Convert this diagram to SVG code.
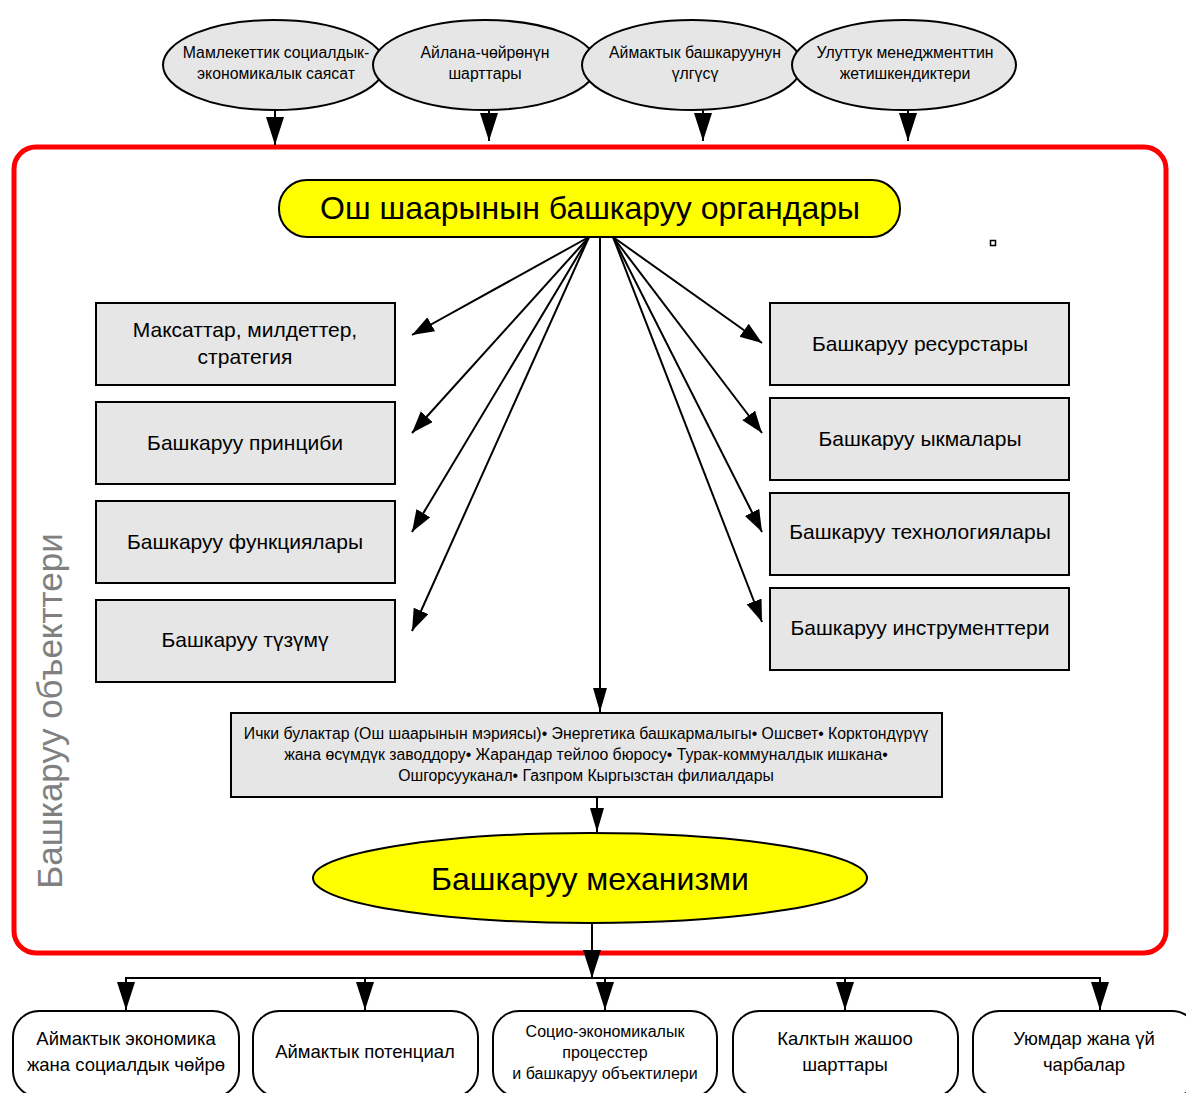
<svg xmlns="http://www.w3.org/2000/svg" width="1186" height="1093" viewBox="0 0 1186 1093">
<style>
text{font-family:"Liberation Sans",Arial,sans-serif;fill:#000;text-anchor:middle}
.ell{fill:#e6e6e6;stroke:#000;stroke-width:2}
.box{fill:#e6e6e6;stroke:#000;stroke-width:2}
.rbox{fill:#fff;stroke:#000;stroke-width:2}
.yel{fill:#ffff00;stroke:#000;stroke-width:2}
.ln{stroke:#000;stroke-width:2;fill:none}
.t15{font-size:15.8px}
.t20{font-size:21px}
.t19{font-size:18.5px}
.t14{font-size:15.8px}
.t16{font-size:16px}
</style>
<defs>
<marker id="af" markerUnits="userSpaceOnUse" markerWidth="24" markerHeight="18" refX="22" refY="8" orient="auto">
<path d="M0,0 L22,8 L0,16 z" fill="#000"/>
</marker>
<marker id="ab" markerUnits="userSpaceOnUse" markerWidth="30" markerHeight="20" refX="28" refY="9" orient="auto">
<path d="M0,0 L28,9 L0,18 z" fill="#000"/>
</marker>
<marker id="am" markerUnits="userSpaceOnUse" markerWidth="26" markerHeight="16" refX="24" refY="7" orient="auto">
<path d="M0,0 L24,7 L0,14 z" fill="#000"/>
</marker>
</defs>

<rect x="14" y="147" width="1152" height="806" rx="22" fill="none" stroke="#ff0000" stroke-width="5"/>

<g id="connectors">
<line class="ln" x1="275" y1="109" x2="275" y2="145" marker-end="url(#ab)"/>
<line class="ln" x1="489" y1="110" x2="489" y2="141" marker-end="url(#ab)"/>
<line class="ln" x1="703" y1="110" x2="703" y2="141" marker-end="url(#ab)"/>
<line class="ln" x1="908" y1="110" x2="908" y2="141" marker-end="url(#ab)"/>

<line class="ln" x1="589" y1="237" x2="412" y2="335" marker-end="url(#af)"/>
<line class="ln" x1="589" y1="237" x2="412" y2="433" marker-end="url(#af)"/>
<line class="ln" x1="589" y1="237" x2="412" y2="532" marker-end="url(#af)"/>
<line class="ln" x1="589" y1="237" x2="412" y2="631" marker-end="url(#af)"/>
<line class="ln" x1="613" y1="237" x2="762" y2="343" marker-end="url(#af)"/>
<line class="ln" x1="613" y1="237" x2="762" y2="433" marker-end="url(#af)"/>
<line class="ln" x1="613" y1="237" x2="762" y2="532" marker-end="url(#af)"/>
<line class="ln" x1="613" y1="237" x2="762" y2="622" marker-end="url(#af)"/>

<line class="ln" x1="600" y1="237" x2="600" y2="712" marker-end="url(#am)"/>
<line class="ln" x1="597" y1="797" x2="597" y2="832" marker-end="url(#am)"/>

<line class="ln" x1="592" y1="923" x2="592" y2="978" marker-end="url(#ab)"/>
<polyline class="ln" points="126,1000 126,978 1100,978 1100,1000"/>
<line class="ln" x1="126" y1="978" x2="126" y2="1010" marker-end="url(#ab)"/>
<line class="ln" x1="365" y1="978" x2="365" y2="1010" marker-end="url(#ab)"/>
<line class="ln" x1="605" y1="978" x2="605" y2="1010" marker-end="url(#ab)"/>
<line class="ln" x1="845" y1="978" x2="845" y2="1010" marker-end="url(#ab)"/>
<line class="ln" x1="1100" y1="978" x2="1100" y2="1010" marker-end="url(#ab)"/>
</g>

<g id="top1"><ellipse class="ell" cx="274" cy="65" rx="111" ry="45"/>
<text class="t15" x="276" y="58">Мамлекеттик социалдык-</text><text class="t15" x="276" y="79">экономикалык саясат</text></g>
<g id="top2"><ellipse class="ell" cx="485" cy="65" rx="112" ry="45"/>
<text class="t15" x="485" y="58">Айлана-чөйрөнүн</text><text class="t15" x="485" y="79">шарттары</text></g>
<g id="top3"><ellipse class="ell" cx="692" cy="65" rx="110" ry="45"/>
<text class="t15" x="695" y="58">Аймактык башкаруунун</text><text class="t15" x="695" y="79">үлгүсү</text></g>
<g id="top4"><ellipse class="ell" cx="904" cy="65" rx="112" ry="45"/>
<text class="t15" x="905" y="58">Улуттук менеджменттин</text><text class="t15" x="905" y="79">жетишкендиктери</text></g>

<g id="organs"><rect class="yel" x="279" y="180" width="621" height="57" rx="28"/>
<text x="590" y="219" style="font-size:32px">Ош шаарынын башкаруу органдары</text></g>

<rect x="990.5" y="240.5" width="5" height="5" fill="#fff" stroke="#000" stroke-width="1.5"/>

<g id="l1"><rect class="box" x="96" y="303" width="299" height="82"/>
<text class="t20" x="245" y="337">Максаттар, милдеттер,</text><text class="t20" x="245" y="364">стратегия</text></g>
<g id="l2"><rect class="box" x="96" y="402" width="299" height="82"/>
<text class="t20" x="245" y="450">Башкаруу принциби</text></g>
<g id="l3"><rect class="box" x="96" y="501" width="299" height="82"/>
<text class="t20" x="245" y="549">Башкаруу функциялары</text></g>
<g id="l4"><rect class="box" x="96" y="600" width="299" height="82"/>
<text class="t20" x="245" y="647">Башкаруу түзүмү</text></g>

<g id="r1"><rect class="box" x="770" y="303" width="299" height="82"/>
<text class="t20" x="920" y="351">Башкаруу ресурстары</text></g>
<g id="r2"><rect class="box" x="770" y="398" width="299" height="82"/>
<text class="t20" x="920" y="446">Башкаруу ыкмалары</text></g>
<g id="r3"><rect class="box" x="770" y="493" width="299" height="82"/>
<text class="t20" x="920" y="539">Башкаруу технологиялары</text></g>
<g id="r4"><rect class="box" x="770" y="588" width="299" height="82"/>
<text class="t20" x="920" y="635">Башкаруу инструменттери</text></g>

<g id="sources"><rect class="box" x="231" y="713" width="711" height="84"/>
<text class="t14" x="586" y="739">Ички булактар (Ош шаарынын мэриясы)• Энергетика башкармалыгы• Ошсвет• Корктондүрүү</text>
<text class="t14" x="586" y="760">жана өсүмдүк заводдору• Жарандар тейлоо бюросу• Турак-коммуналдык ишкана•</text>
<text class="t14" x="586" y="781">Ошгорсууканал• Газпром Кыргызстан филиалдары</text></g>

<g id="mechanism"><ellipse class="yel" cx="590" cy="878" rx="277" ry="45"/>
<text x="590" y="890" style="font-size:32px">Башкаруу механизми</text></g>

<text x="0" y="0" transform="translate(62,711) rotate(-90)" style="font-size:35px;fill:#808080">Башкаруу объекттери</text>

<g id="b1"><rect class="rbox" x="13" y="1011" width="226" height="86" rx="26"/>
<text class="t19" x="126" y="1045">Аймактык экономика</text><text class="t19" x="126" y="1071">жана социалдык чөйрө</text></g>
<g id="b2"><rect class="rbox" x="253" y="1011" width="225" height="86" rx="26"/>
<text class="t19" x="365" y="1058">Аймактык потенциал</text></g>
<g id="b3"><rect class="rbox" x="493" y="1011" width="224" height="86" rx="26"/>
<text class="t16" x="605" y="1037">Социо-экономикалык</text><text class="t16" x="605" y="1058">процесстер</text><text class="t16" x="605" y="1079">и башкаруу объектилери</text></g>
<g id="b4"><rect class="rbox" x="733" y="1011" width="225" height="86" rx="26"/>
<text class="t19" x="845" y="1045">Калктын жашоо</text><text class="t19" x="845" y="1071">шарттары</text></g>
<g id="b5"><rect class="rbox" x="973" y="1011" width="225" height="86" rx="26"/>
<text class="t19" x="1084" y="1045">Уюмдар жана үй</text><text class="t19" x="1084" y="1071">чарбалар</text></g>
</svg>
